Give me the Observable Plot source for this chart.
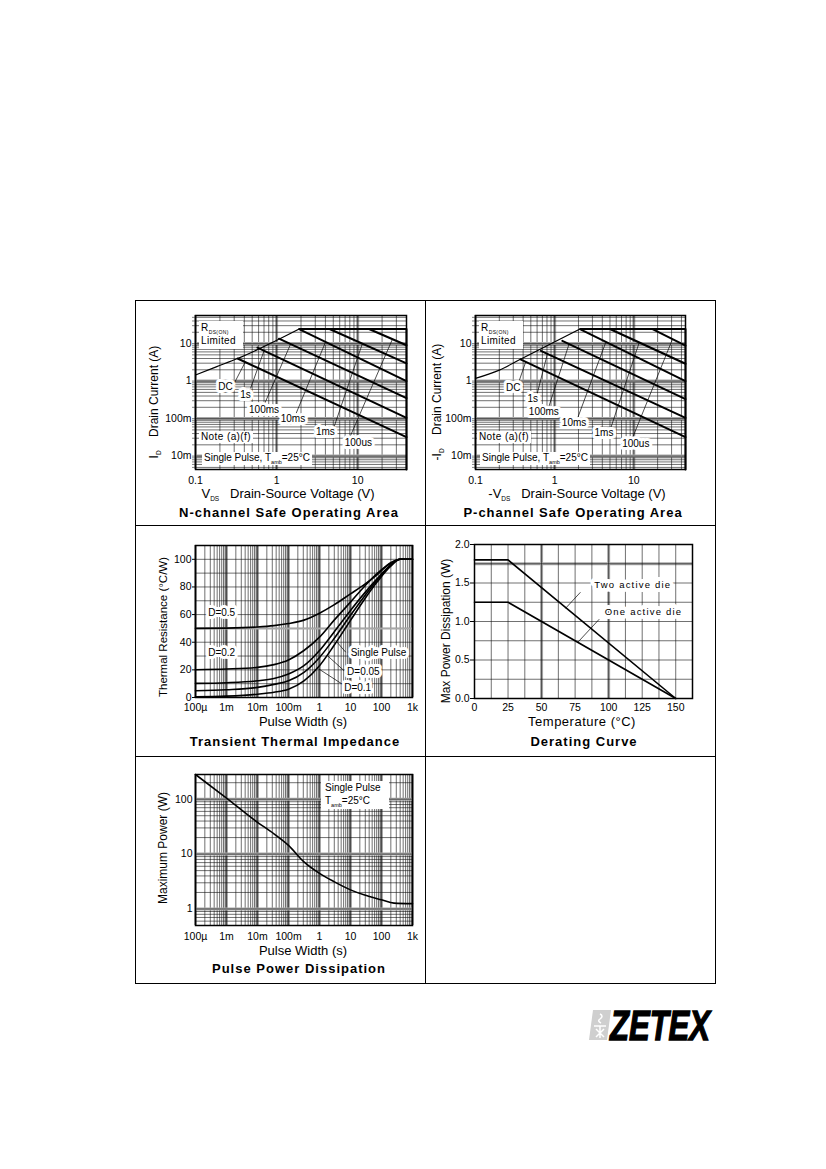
<!DOCTYPE html>
<html>
<head>
<meta charset="utf-8">
<script src="https://cdn.jsdelivr.net/npm/d3@7"></script>
<script src="https://cdn.jsdelivr.net/npm/@observablehq/plot@0.6"></script>
<style>
  html, body { margin: 0; padding: 0; background: #fff; }
  #page { position: relative; width: 826px; height: 1169px; background: #fff; overflow: hidden;
          font-family: "Liberation Sans", Arial, sans-serif; color: #000; }
  .abs { position: absolute; white-space: nowrap; }
  .title { font-weight: bold; font-size: 13px; letter-spacing: 1px; transform: translate(-50%, -50%); }
  .xl { font-size: 13px; transform: translate(-50%, -50%); }
  .yl { font-size: 12px; transform: translate(-50%, -50%) rotate(-90deg); }
  .sub { font-size: 6.5px; position: relative; top: 3px; }
  .box { background: #fff; font-size: 10px; line-height: 12px; padding: 0 2px; }
  .line { position: absolute; background: #000; }
</style>
</head>
<body>
<div id="page"></div>
<script>
// ================= DATA =================
// Safe operating area — shared
const soaCurveNames = ["DC", "1s", "100ms", "10ms", "1ms", "100us"];
const soaXTicks = [0.1, 1, 10];
const soaXTickLabels = ["0.1", "1", "10"];
const soaYTicks = [0.01, 0.1, 1, 10];
const soaYTickLabels = ["10m", "100m", "1", "10"];

// N-channel SOA
const nRdsV = [0.1, 0.18, 0.33, 1.9];
const nRdsI = [1.45, 2.4, 4.0, 24.5];
const nMaxCurrent = 24.5;
const nMaxVoltage = 40;
const nStartV = [0.33, 0.58, 1.07, 1.95, 4.5, 13.8];
const nStartI = [4.0, 7.8, 13.5, 23.5, 24.5, 24.5];
const nEndI = [0.032, 0.105, 0.35, 1.0, 2.95, 9.0];
const nLabelV = [0.235, 0.414, 0.70, 1.59, 4.0, 10.2];
const nLabelI = [0.69, 0.425, 0.17, 0.096, 0.045, 0.022];
const nLeadFromV = [0.30, 0.477, 0.70, 1.71, 5.1, 7.8];
const nLeadFromI = [0.87, 0.64, 0.23, 0.125, 0.059, 0.028];
const nLeadToV = [0.41, 0.70, 1.49, 4.0, 11.4, 26.8];
const nLeadToI = [3.2, 6.4, 9.7, 10.8, 9.8, 13];

// P-channel SOA
const pRdsV = [0.1, 0.2, 0.37, 2.1];
const pRdsI = [1.18, 1.96, 3.8, 24.5];
const pMaxCurrent = 24.5;
const pMaxVoltage = 45;
const pStartV = [0.37, 0.67, 1.25, 2.15, 5.0, 17];
const pStartI = [3.8, 6.4, 11.8, 23.5, 24.5, 24.5];
const pEndI = [0.032, 0.105, 0.33, 1.0, 2.9, 8.8];
const pLabelV = [0.30, 0.53, 0.73, 1.76, 4.2, 10.6];
const pLabelI = [0.68, 0.33, 0.153, 0.078, 0.042, 0.021];
const pLeadFromV = [0.353, 0.60, 0.85, 1.94, 5.1, 9.6];
const pLeadFromI = [0.96, 0.45, 0.217, 0.10, 0.055, 0.03];
const pLeadToV = [0.43, 0.81, 1.52, 4.42, 11.7, 30.8];
const pLeadToI = [3.2, 5.3, 9.7, 10.7, 10.6, 13];

// Transient thermal impedance
const tPulseWidth = [1e-4, 1e-3, 1e-2, 0.034, 0.1, 0.315, 1, 2.93, 10, 27, 73, 198, 400, 1000];
const tD05   = [50, 50.2, 51, 52, 53.5, 56, 61, 67, 75, 81.5, 89, 97.5, 100, 100];
const tD02   = [20.1, 20.6, 21.8, 23.8, 27.2, 34, 43.7, 55.8, 69, 80, 89.8, 97.2, 100, 100];
const tD01   = [10.2, 10.7, 12.1, 13.8, 17, 23, 34, 47.3, 63, 75, 86, 96, 100, 100];
const tD005  = [4.9, 5.6, 7.3, 9.5, 12.1, 18.2, 29, 42.5, 59.5, 72.8, 85, 95.5, 100, 100];
const tSingle = [0.5, 1, 2.4, 3.8, 6, 12, 23, 37.6, 55.8, 70.4, 83.7, 95, 100, 100];
const tSeriesNames = ["D=0.5", "D=0.2", "D=0.1", "D=0.05", "Single Pulse"];
const tLabelText = ["D=0.5", "D=0.2", "Single Pulse", "D=0.05", "D=0.1"];
const tLabelX = [7e-4, 7e-4, 80, 26, 17];
const tLabelY = [61, 32, 32.5, 18.7, 7.1];
const tLeadFromX = [7.0, 6.2, 5.4];
const tLeadFromY = [32.8, 19.4, 9.7];
const tLeadToX = [3.3, 1.8, 0.96];
const tLeadToY = [41.3, 30.3, 20.6];
const tXTicks = [1e-4, 1e-3, 1e-2, 0.1, 1, 10, 100, 1000];
const tXTickLabels = ["100\u00b5", "1m", "10m", "100m", "1", "10", "100", "1k"];
const tYTicks = [0, 20, 40, 60, 80, 100];

// Derating curve
const dTemp = [0, 25, 150];
const dTwoDie = [1.8, 1.8, 0];
const dOneDie = [1.25, 1.25, 0];
const dLabelText = ["Two active die", "One active die"];
const dLabelX = [118, 126];
const dLabelY = [1.47, 1.13];
const dLeadFromX = [79, 93];
const dLeadFromY = [1.38, 1.03];
const dLeadToX = [67.8, 77];
const dLeadToY = [1.17, 0.73];
const dXTicks = [0, 25, 50, 75, 100, 125, 150];
const dYTicks = [0, 0.5, 1.0, 1.5, 2.0];

// Pulse power dissipation
const ppWidth = [1e-4, 1e-3, 1e-2, 0.034, 0.1, 0.315, 1, 2.93, 10, 27, 100, 254, 1000];
const ppPower = [282, 105, 38, 23.4, 14.4, 7.2, 4.45, 3.15, 2.23, 1.81, 1.47, 1.28, 1.25];
const ppYTicks = [1, 10, 100];
const ppYTickLabels = ["1", "10", "100"];

// ================= HELPERS =================
const page = document.getElementById("page");
const FONT = "'Liberation Sans', Arial, Helvetica, sans-serif";
const baseStyle = { fontFamily: FONT, fontSize: "10.5px", color: "#000", background: "none", overflow: "visible" };

function put(el, left, top) {
  el.style.position = "absolute";
  el.style.left = left + "px";
  el.style.top = top + "px";
  page.appendChild(el);
  return el;
}
function html(str, cls, left, top, extra) {
  const d = document.createElement("div");
  d.className = "abs " + cls;
  d.innerHTML = str;
  d.style.left = left + "px";
  d.style.top = top + "px";
  if (extra) Object.assign(d.style, extra);
  page.appendChild(d);
  return d;
}
function logGrid(lo, hi) {
  const out = [];
  for (let e = Math.floor(Math.log10(lo)); e <= Math.ceil(Math.log10(hi)); e++) {
    for (let m = 1; m < 10; m++) {
      const v = m * Math.pow(10, e);
      if (v >= lo * 0.999 && v <= hi * 1.001) out.push({ v, decade: m === 1 });
    }
  }
  return out;
}
const lookup = (ticks, labels) => { const m = new Map(ticks.map((t, i) => [t, labels[i]])); return d => m.get(d); };
const halo = { fill: "#000", stroke: "#fff", strokeWidth: 6, paintOrder: "stroke", fontSize: 10, strokeLinejoin: "round" };

function logGridMarks(xg, yg) {
  const marks = [];
  if (xg) {
    marks.push(Plot.ruleX(xg.filter(d => d.decade).map(d => d.v), { stroke: "#a8a8a8", strokeWidth: 3 }));
    marks.push(Plot.ruleX(xg.map(d => d.v), { stroke: "#111", strokeWidth: 0.6 }));
  }
  if (yg) {
    marks.push(Plot.ruleY(yg.filter(d => d.decade).map(d => d.v), { stroke: "#a8a8a8", strokeWidth: 3 }));
    marks.push(Plot.ruleY(yg.map(d => d.v), { stroke: "#111", strokeWidth: 0.6 }));
  }
  return marks;
}

// ================= SOA =================
function soaPlot(c) {
  const seg = [];
  soaCurveNames.forEach((name, i) => {
    seg.push({ name, v: c.startV[i], a: c.startI[i] });
    seg.push({ name, v: c.vmax, a: c.endI[i] });
  });
  const rds = c.rdsV.map((v, i) => ({ v, a: c.rdsI[i] }));
  const limit = [
    { v: c.rdsV[c.rdsV.length - 1], a: c.imax },
    { v: c.vmax, a: c.imax },
    { v: c.vmax, a: c.ymin }
  ];
  const leaders = soaCurveNames.map((n, i) => ({ x1: c.leadFromV[i], y1: c.leadFromI[i], x2: c.leadToV[i], y2: c.leadToI[i] }));
  const labels = soaCurveNames.map((name, i) => ({ name, v: c.labelV[i], a: c.labelI[i] }));
  const yg = logGrid(c.ymin, c.ymax);
  return Plot.plot({
    width: c.width, height: c.height,
    marginLeft: c.ml, marginRight: c.mr, marginTop: c.mt, marginBottom: c.mb,
    x: { type: "log", domain: [0.1, c.vmax], axis: null },
    y: { type: "log", domain: [c.ymin, c.ymax], axis: null },
    style: baseStyle,
    marks: [
      ...logGridMarks(logGrid(0.1, c.vmax), yg),
      Plot.frame({ stroke: "#000", strokeWidth: 1.5 }),
      Plot.line(rds, { x: "v", y: "a", stroke: "#000", strokeWidth: 1.2, curve: "monotone-x" }),
      Plot.line(limit, { x: "v", y: "a", stroke: "#000", strokeWidth: 2 }),
      Plot.line(seg, { x: "v", y: "a", z: "name", stroke: "#000", strokeWidth: 2 }),
      Plot.link(leaders, { x1: "x1", y1: "y1", x2: "x2", y2: "y2", stroke: "#000", strokeWidth: 0.7 }),
      Plot.text(labels, { x: "v", y: "a", text: "name", ...halo }),
      Plot.axisY(yg.map(d => d.v), { tickFormat: () => "", tickSize: 3, label: null, stroke: "#333", strokeWidth: 0.6 }),
      Plot.axisX(soaXTicks, { tickFormat: lookup(soaXTicks, soaXTickLabels), tickSize: 0, tickPadding: 7, fontSize: 10.5, label: null }),
      Plot.axisY(soaYTicks, { tickFormat: lookup(soaYTicks, soaYTickLabels), tickSize: 0, tickPadding: 4, fontSize: 10.5, label: null })
    ]
  });
}

put(soaPlot({
  width: 290, height: 225, ml: 60, mr: 19, mt: 15, mb: 56,
  vmax: nMaxVoltage, imax: nMaxCurrent, ymin: 0.0044, ymax: 56,
  rdsV: nRdsV, rdsI: nRdsI, startV: nStartV, startI: nStartI, endI: nEndI,
  labelV: nLabelV, labelI: nLabelI,
  leadFromV: nLeadFromV, leadFromI: nLeadFromI, leadToV: nLeadToV, leadToI: nLeadToI
}), 135, 300);

put(soaPlot({
  width: 291, height: 225, ml: 50, mr: 31, mt: 15, mb: 56,
  vmax: pMaxVoltage, imax: pMaxCurrent, ymin: 0.0044, ymax: 56,
  rdsV: pRdsV, rdsI: pRdsI, startV: pStartV, startI: pStartI, endI: pEndI,
  labelV: pLabelV, labelI: pLabelI,
  leadFromV: pLeadFromV, leadFromI: pLeadFromI, leadToV: pLeadToV, leadToI: pLeadToI
}), 425, 300);

// ================= THERMAL =================
{
  const series = [tD05, tD02, tD01, tD005, tSingle];
  const rows = [];
  series.forEach((s, k) => s.forEach((y, i) => rows.push({ name: tSeriesNames[k], x: tPulseWidth[i], y })));
  const labels = tLabelText.map((t, i) => ({ t, x: tLabelX[i], y: tLabelY[i] }));
  const leaders = tLeadFromX.map((x, i) => ({ x1: x, y1: tLeadFromY[i], x2: tLeadToX[i], y2: tLeadToY[i] }));
  const xg = logGrid(1e-4, 1000);
  put(Plot.plot({
    width: 290, height: 231, marginLeft: 60, marginRight: 13, marginTop: 20, marginBottom: 59,
    x: { type: "log", domain: [1e-4, 1000], axis: null },
    y: { domain: [0, 110], axis: null },
    style: baseStyle,
    marks: [
      ...logGridMarks(xg, null),
      Plot.ruleY(d3.range(0, 111, 10), { stroke: "#111", strokeWidth: 0.6 }),
      Plot.ruleY([50], { stroke: "#a8a8a8", strokeWidth: 2 }),
      Plot.frame({ stroke: "#000", strokeWidth: 1.5 }),
      Plot.line(rows, { x: "x", y: "y", z: "name", stroke: "#000", strokeWidth: 1.6, curve: "monotone-x" }),
      Plot.link(leaders, { x1: "x1", y1: "y1", x2: "x2", y2: "y2", stroke: "#000", strokeWidth: 0.7 }),
      Plot.text(labels, { x: "x", y: "y", text: "t", ...halo }),
      Plot.axisX(tXTicks, { tickFormat: lookup(tXTicks, tXTickLabels), tickSize: 0, tickPadding: 6, fontSize: 10.5, label: null }),
      Plot.axisY(tYTicks, { tickSize: 3, tickPadding: 1, fontSize: 10.5, label: null })
    ]
  }), 135, 525);
}

// ================= DERATING =================
{
  const rows = [];
  dTemp.forEach((t, i) => { rows.push({ name: "Two", t, p: dTwoDie[i] }); });
  dTemp.forEach((t, i) => { rows.push({ name: "One", t, p: dOneDie[i] }); });
  const labels = dLabelText.map((t, i) => ({ t, x: dLabelX[i], y: dLabelY[i] }));
  const leaders = dLeadFromX.map((x, i) => ({ x1: x, y1: dLeadFromY[i], x2: dLeadToX[i], y2: dLeadToY[i] }));
  const svg = put(Plot.plot({
    width: 291, height: 231, marginLeft: 49, marginRight: 24, marginTop: 19, marginBottom: 58,
    x: { domain: [0, 162.5], axis: null },
    y: { domain: [0, 2], axis: null },
    style: baseStyle,
    marks: [
      Plot.ruleX([50, 100], { stroke: "#a8a8a8", strokeWidth: 3 }),
      Plot.ruleY([1.75], { stroke: "#a8a8a8", strokeWidth: 3 }),
      Plot.ruleX(d3.range(0, 163, 12.5), { stroke: "#111", strokeWidth: 0.6 }),
      Plot.ruleY(d3.range(0, 2.01, 0.25), { stroke: "#111", strokeWidth: 0.6 }),
      Plot.frame({ stroke: "#000", strokeWidth: 1.5 }),
      Plot.line(rows, { x: "t", y: "p", z: "name", stroke: "#000", strokeWidth: 1.6 }),
      Plot.link(leaders, { x1: "x1", y1: "y1", x2: "x2", y2: "y2", stroke: "#000", strokeWidth: 0.7 }),
      Plot.text(labels, { x: "x", y: "y", text: "t", ...halo, strokeWidth: 8, fontSize: 9.5 }),
      Plot.axisX(dXTicks, { tickSize: 0, tickPadding: 5, fontSize: 10.5, label: null }),
      Plot.axisY(dYTicks, { tickFormat: d => d.toFixed(1), tickSize: 4, tickPadding: 1, fontSize: 10.5, label: null })
    ]
  }), 425, 525);
  d3.select(svg).selectAll("text").filter(function () { return /active/.test(this.textContent); })
    .style("letter-spacing", "1.2px");
}

// ================= PULSE POWER =================
{
  const rows = ppWidth.map((w, i) => ({ w, p: ppPower[i] }));
  put(Plot.plot({
    width: 290, height: 227, marginLeft: 60, marginRight: 13, marginTop: 18, marginBottom: 58,
    x: { type: "log", domain: [1e-4, 1000], axis: null },
    y: { type: "log", domain: [0.5, 282], axis: null },
    style: baseStyle,
    marks: [
      ...logGridMarks(logGrid(1e-4, 1000), logGrid(0.5, 282)),
      Plot.frame({ stroke: "#000", strokeWidth: 1.5 }),
      Plot.line(rows, { x: "w", y: "p", stroke: "#000", strokeWidth: 1.6, curve: "monotone-x" }),
      Plot.axisX(tXTicks, { tickFormat: lookup(tXTicks, tXTickLabels), tickSize: 0, tickPadding: 7, fontSize: 10.5, label: null }),
      Plot.axisY(ppYTicks, { tickFormat: lookup(ppYTicks, ppYTickLabels), tickSize: 0, tickPadding: 3, fontSize: 10.5, label: null })
    ]
  }), 135, 756);
}

// ================= TEXT OVERLAYS =================
// N-channel
html("I<span class='sub'>D</span>&nbsp;&nbsp;&nbsp;&nbsp;Drain Current (A)", "yl", 154, 402);
html("V<span class='sub'>DS</span>&nbsp;&nbsp;&nbsp;Drain-Source Voltage (V)", "xl", 288, 493);
html("N-channel Safe Operating Area", "title", 289, 512);
html("R<span class='sub' style='font-size:5px'>DS(ON)</span><br>Limited", "box", 199, 321, { width: "40px", height: "27px", paddingTop: "1px", letterSpacing: "0.4px" });
html("Note (a)(f)", "box", 199, 431, { letterSpacing: "0.4px" });
html("Single Pulse, T<span class='sub' style='font-size:5.5px'>amb</span>=25°C", "box", 202, 452, { height: "13px" });

// P-channel
html("-I<span class='sub'>D</span>&nbsp;&nbsp;&nbsp;&nbsp;Drain Current (A)", "yl", 437, 402);
html("-V<span class='sub'>DS</span>&nbsp;&nbsp;&nbsp;Drain-Source Voltage (V)", "xl", 577, 493);
html("P-channel Safe Operating Area", "title", 573, 512);
html("R<span class='sub' style='font-size:5px'>DS(ON)</span><br>Limited", "box", 479, 321, { width: "40px", height: "27px", paddingTop: "1px", letterSpacing: "0.4px" });
html("Note (a)(f)", "box", 477, 431, { letterSpacing: "0.4px" });
html("Single Pulse, T<span class='sub' style='font-size:5.5px'>amb</span>=25°C", "box", 480, 452, { height: "13px" });

// Thermal
html("Thermal Resistance (°C/W)", "yl", 163, 627, { fontSize: "11.5px" });
html("Pulse Width (s)", "xl", 303, 721);
html("Transient Thermal Impedance", "title", 295, 741);

// Derating
html("Max Power Dissipation (W)", "yl", 446, 631, { fontSize: "12px" });
html("Temperature (°C)", "xl", 582, 721, { letterSpacing: "0.5px" });
html("Derating Curve", "title", 584, 741);

// Pulse power
html("Maximum Power (W)", "yl", 163, 848, { fontSize: "12px" });
html("Pulse Width (s)", "xl", 303, 950);
html("Pulse Power Dissipation", "title", 299, 968);
html("Single Pulse<br>T<span class='sub' style='font-size:5.5px'>amb</span>=25°C", "box", 321, 781, { width: "62px", height: "28px", paddingLeft: "4px", lineHeight: "13px" });

// ================= BORDERS =================
function hline(x, y, w) { const d = document.createElement("div"); d.className = "line"; Object.assign(d.style, { left: x + "px", top: y + "px", width: w + "px", height: "1.2px" }); page.appendChild(d); }
function vline(x, y, h) { const d = document.createElement("div"); d.className = "line"; Object.assign(d.style, { left: x + "px", top: y + "px", width: "1.2px", height: h + "px" }); page.appendChild(d); }
hline(135, 300, 581);
hline(135, 525, 581);
hline(135, 756, 581);
hline(135, 983, 581);
vline(135, 300, 684);
vline(425, 300, 684);
vline(715, 300, 684);

// ================= LOGO =================
{
  const ns = "http://www.w3.org/2000/svg";
  const svg = document.createElementNS(ns, "svg");
  svg.setAttribute("width", "160"); svg.setAttribute("height", "50");
  svg.style.overflow = "visible";
  svg.innerHTML =
    "<polygon points='8,3 26,3 22,33 4,33' fill='#cfcfcf'/>" +
    "<path d='M15,7 q4,2 0,5 q-3,2 1,4 M9,19 L21,19 M11,22 L19,30 M19,22 L11,30 M15,19 L15,31' stroke='#fff' stroke-width='1.5' fill='none'/>" +
    "<text x='25' y='33' font-family=\"'Liberation Sans Narrow','Liberation Sans',Arial,sans-serif\" font-weight='900' font-style='italic' font-size='42' textLength='100' lengthAdjust='spacingAndGlyphs' fill='#000' stroke='#000' stroke-width='1.4'>ZETEX</text>";
  put(svg, 585, 1007);
}
</script>
</body>
</html>
